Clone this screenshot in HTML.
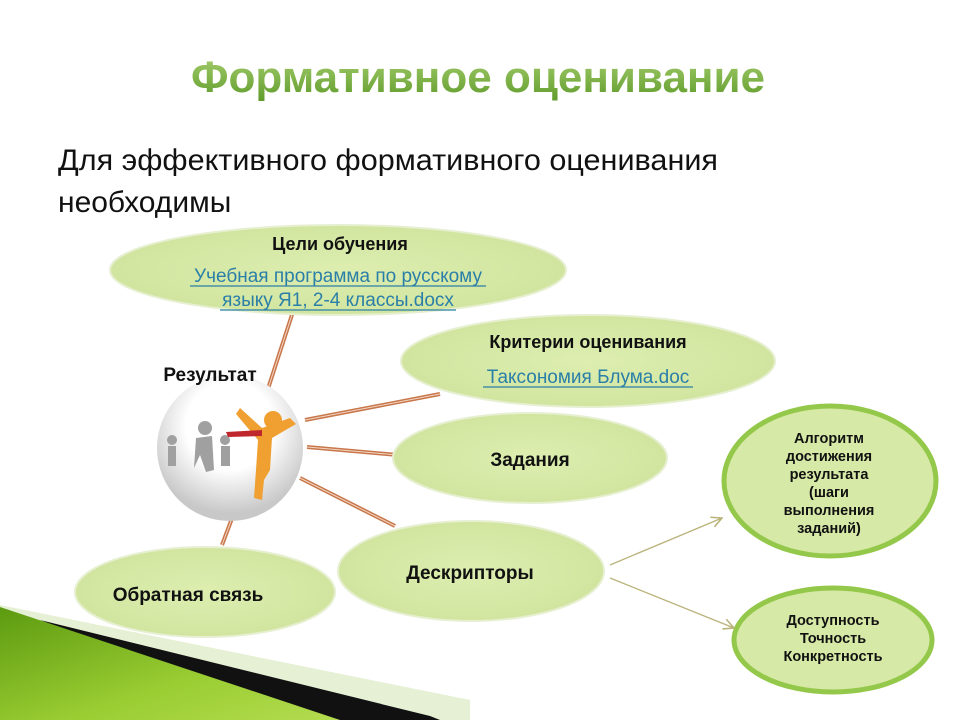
<!DOCTYPE html>
<html><head><meta charset="utf-8"><style>
html,body{margin:0;padding:0;background:#fff;}
svg{display:block;}
text{font-family:"Liberation Sans",sans-serif;}
</style></head><body>
<svg width="960" height="720" viewBox="0 0 960 720" xmlns="http://www.w3.org/2000/svg">
<defs>
<linearGradient id="tg" x1="0" y1="0" x2="0" y2="1"><stop offset="0" stop-color="#a8d070"/><stop offset="1" stop-color="#5e9a2a"/></linearGradient>
<radialGradient id="eg" cx="0.5" cy="0.5" r="0.6"><stop offset="0" stop-color="#ddeeb0"/><stop offset="1" stop-color="#cfe39c"/></radialGradient>
<radialGradient id="cg" cx="0.5" cy="0.35" r="0.6"><stop offset="0.5" stop-color="#ffffff"/><stop offset="1" stop-color="#c8c8c8"/></radialGradient>
<linearGradient id="gg" x1="0" y1="0" x2="1" y2="1"><stop offset="0" stop-color="#5c9a10"/><stop offset="0.6" stop-color="#9acd32"/><stop offset="1" stop-color="#b4dc50"/></linearGradient>
<marker id="ar" markerWidth="10" markerHeight="10" refX="9" refY="5" orient="auto"><path d="M1,1 L9,5 L1,9" fill="none" stroke="#b9b37a" stroke-width="1.2"/></marker>
</defs>

<!-- bottom-left decoration -->
<polygon points="0,605 470,700 470,720 0,720" fill="#e6f0d4"/>
<polygon points="40,620 430,716 440,720 300,720" fill="#111"/>
<polygon points="0,607 340,720 0,720" fill="url(#gg)"/>

<text x="478" y="92" text-anchor="middle" font-size="44" font-weight="bold" fill="url(#tg)">Формативное оценивание</text>
<text x="58" y="170" font-size="30" fill="#111" textLength="660" lengthAdjust="spacingAndGlyphs">Для эффективного формативного оценивания</text>
<text x="58" y="212" font-size="30" fill="#111">необходимы</text>

<!-- connectors -->
<g stroke="#c8774a" stroke-width="4" fill="none">
<line x1="265" y1="398" x2="300" y2="290"/>
<line x1="305" y1="420" x2="440" y2="394"/>
<line x1="307" y1="447" x2="398" y2="455"/>
<line x1="300" y1="478" x2="395" y2="526"/>
<line x1="237" y1="505" x2="222" y2="545"/>
</g>
<g stroke="#f3d6c4" stroke-width="1" fill="none">
<line x1="265" y1="398" x2="300" y2="290"/>
<line x1="305" y1="420" x2="440" y2="394"/>
<line x1="307" y1="447" x2="398" y2="455"/>
<line x1="300" y1="478" x2="395" y2="526"/>
<line x1="237" y1="505" x2="222" y2="545"/>
</g>

<!-- ellipses -->
<g fill="url(#eg)" stroke="#e6efd0" stroke-width="2">
<ellipse cx="338" cy="270" rx="228" ry="45"/>
<ellipse cx="588" cy="361" rx="187" ry="46"/>
<ellipse cx="530" cy="458" rx="137" ry="45"/>
<ellipse cx="205" cy="592" rx="130" ry="45"/>
<ellipse cx="471" cy="571" rx="133" ry="50"/>
</g>
<ellipse cx="830" cy="481" rx="106" ry="75" fill="#d6e9a6" stroke="#94c84a" stroke-width="5"/>
<ellipse cx="833" cy="640" rx="99" ry="52" fill="#d6e9a6" stroke="#94c84a" stroke-width="5"/>

<!-- arrows -->
<line x1="610" y1="565" x2="722" y2="518" stroke="#b9b37a" stroke-width="1.3" marker-end="url(#ar)"/>
<line x1="610" y1="578" x2="734" y2="628" stroke="#b9b37a" stroke-width="1.3" marker-end="url(#ar)"/>

<!-- image circle -->
<circle cx="230" cy="448" r="73" fill="url(#cg)"/>
<g fill="#a0a0a0"><circle cx="172" cy="440" r="5"/><rect x="168" y="446" width="8" height="20"/>
<circle cx="205" cy="428" r="7"/><path d="M196,438 L212,436 L214,470 L206,472 L200,455 L194,468 Z"/>
<circle cx="225" cy="440" r="5"/><rect x="221" y="446" width="9" height="20"/></g>
<g fill="#f0a030"><circle cx="273" cy="420" r="9"/><path d="M240,408 L262,428 L290,418 L296,424 L272,438 L270,470 L264,480 L262,500 L254,498 L256,470 L258,440 L236,414 Z"/></g>
<path d="M226,432 L262,430 L262,436 L228,437 Z" fill="#c0272d"/>

<!-- labels -->
<g font-weight="bold" fill="#111" text-anchor="middle">
<text x="340" y="250" font-size="18">Цели обучения</text>
<text x="588" y="348" font-size="18">Критерии оценивания</text>
<text x="530" y="466" font-size="19">Задания</text>
<text x="470" y="579" font-size="19">Дескрипторы</text>
<text x="188" y="601" font-size="19">Обратная связь</text>
<text x="210" y="381" font-size="19">Результат</text>
<g font-size="14.5">
<text x="829" y="443">Алгоритм</text>
<text x="829" y="461">достижения</text>
<text x="829" y="479">результата</text>
<text x="829" y="497">(шаги</text>
<text x="829" y="515">выполнения</text>
<text x="829" y="533">заданий)</text>
<text x="833" y="625">Доступность</text>
<text x="833" y="643">Точность</text>
<text x="833" y="661">Конкретность</text>
</g>
</g>
<g fill="#2a7fa8" text-anchor="middle" font-size="19">
<text x="338" y="282">Учебная программа по русскому</text>
<text x="338" y="306">языку Я1, 2-4 классы.docx</text>
<text x="588" y="383">Таксономия Блума.doc</text>
</g>
<g stroke="#2a7fa8" stroke-width="1.2">
<line x1="190" y1="286" x2="486" y2="286"/>
<line x1="220" y1="310" x2="456" y2="310"/>
<line x1="483" y1="387" x2="693" y2="387"/>
</g>
</svg>
</body></html>
